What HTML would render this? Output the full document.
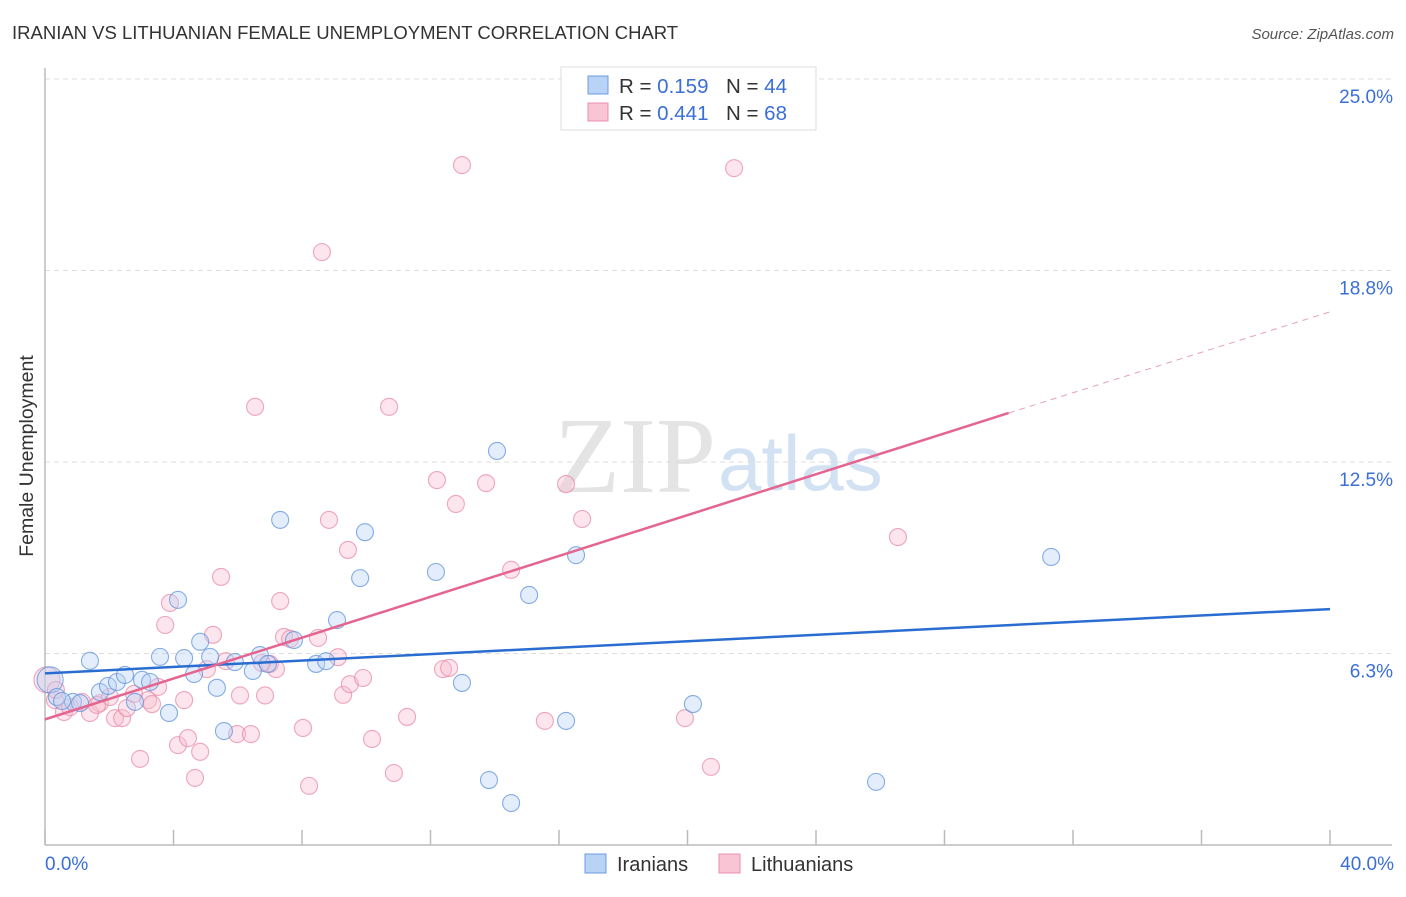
<!DOCTYPE html>
<html><head><meta charset="utf-8"><style>
body{margin:0;background:#fff;font-family:"Liberation Sans",sans-serif}
</style></head><body>
<svg id="c" width="1406" height="892" xmlns="http://www.w3.org/2000/svg" font-family="Liberation Sans, sans-serif">
<text x="12" y="39" font-size="18.5" fill="#333">IRANIAN VS LITHUANIAN FEMALE UNEMPLOYMENT CORRELATION CHART</text>
<text x="1394" y="39" font-size="15" fill="#555" text-anchor="end" font-style="italic">Source: ZipAtlas.com</text>
<text x="716" y="492" font-size="108" fill="#e4e4e4" text-anchor="end" font-family="Liberation Serif, serif">ZIP</text>
<text x="718" y="490" font-size="78" fill="#d3e2f3">atlas</text>
<g id="grid"></g>
<g id="marks"></g>
<text x="33" y="456" font-size="19.5" fill="#333" text-anchor="middle" transform="rotate(-90 33 456)">Female Unemployment</text>
<text x="45" y="870" font-size="19" fill="#3a6fd8">0.0%</text>
<text x="1394" y="870" font-size="19" fill="#3a6fd8" text-anchor="end">40.0%</text>
<g>
<rect x="561" y="67" width="255" height="63" fill="#fff" stroke="#ddd"/>
<rect x="588" y="76" width="20" height="18" fill="#b8d3f5" stroke="#6a9be0"/>
<rect x="588" y="103" width="20" height="18" fill="#f9c5d5" stroke="#e890ab"/>
<text x="619" y="93" font-size="20.5" fill="#333">R = <tspan fill="#3a6fd8">0.159</tspan><tspan x="726">N = </tspan><tspan fill="#3a6fd8">44</tspan></text>
<text x="619" y="120" font-size="20.5" fill="#333">R = <tspan fill="#3a6fd8">0.441</tspan><tspan x="726">N = </tspan><tspan fill="#3a6fd8">68</tspan></text>
</g>
<g>
<rect x="585" y="854" width="21" height="19" fill="#b8d3f5" stroke="#6a9be0"/>
<text x="617" y="871" font-size="20" fill="#333">Iranians</text>
<rect x="719" y="854" width="21" height="19" fill="#f9c5d5" stroke="#e890ab"/>
<text x="751" y="871" font-size="20" fill="#333">Lithuanians</text>
</g>
</svg>
<script>
const yTicks=[25,18.75,12.5,6.25];
const yTickLabels=["25.0%","18.8%","12.5%","6.3%"];
const xTicks=[0,4,8,12,16,20,24,28,32,36,40];
const iraniansX=[0.16,0.37,0.87,1.4,1.71,1.96,2.24,2.49,2.8,3.02,3.27,3.58,3.86,4.14,4.33,4.64,4.83,5.14,5.35,5.57,5.91,6.47,6.69,6.94,7.32,7.75,8.44,8.75,9.09,9.81,9.96,12.17,12.98,13.82,14.07,14.51,15.07,16.22,16.53,20.17,25.87,31.32,0.53,1.09];
const iraniansY=[5.39,4.83,4.67,6.01,4.99,5.19,5.32,5.55,4.67,5.39,5.32,6.14,4.31,8.0,6.1,5.58,6.63,6.14,5.13,3.72,5.97,5.68,6.2,5.91,10.61,6.69,5.91,6.0,7.34,8.71,10.21,8.91,5.29,2.12,12.86,1.37,8.16,4.05,9.46,4.6,2.06,9.4,4.7,4.63];
const lithX=[0.06,0.31,0.59,0.78,1.15,1.4,1.71,2.02,2.18,2.4,2.55,2.77,2.96,3.21,3.33,3.52,3.74,3.89,4.14,4.33,4.45,4.67,4.83,5.04,5.23,5.48,5.63,5.98,6.07,6.41,6.54,6.85,7.0,7.19,7.32,7.44,7.63,8.03,8.22,8.5,8.62,8.84,9.12,9.28,9.43,9.49,9.9,10.18,10.71,10.86,11.27,12.2,12.39,12.58,12.79,12.98,13.73,14.51,15.56,16.22,16.72,19.92,20.73,21.45,26.55,0.34,1.62,6.75];
const lithY=[5.39,4.73,4.34,4.5,4.67,4.31,4.63,4.83,4.14,4.14,4.47,4.93,2.81,4.73,4.6,5.16,7.18,7.9,3.26,4.73,3.49,2.19,3.04,5.74,6.86,8.75,6.0,3.62,4.88,3.62,14.3,4.88,5.91,5.74,7.96,6.79,6.73,3.82,1.93,6.76,19.35,10.61,6.13,4.9,9.63,5.25,5.45,3.46,14.3,2.35,4.18,11.91,5.74,5.78,11.13,22.19,11.81,8.98,4.05,11.78,10.64,4.14,2.55,22.09,10.05,5.06,4.57,5.94];
const blueTrend=[[0,5.6],[40,7.7]];
const pinkTrend=[[0,4.1],[30,14.1],[40,17.4]];
const svg=document.getElementById('c'),NS='http://www.w3.org/2000/svg';
const X=v=>45+v*32.125, Y=v=>845-v*30.64;
function mk(t,a,p){const e=document.createElementNS(NS,t);for(const k in a)e.setAttribute(k,a[k]);(p||svg).appendChild(e);return e;}
const grid=document.getElementById('grid'),marks=document.getElementById('marks');
yTicks.forEach((t,i)=>{
 const l=mk('line',{x1:45,x2:1392,y1:Y(t),y2:Y(t),stroke:'#ddd','stroke-dasharray':'5,4'},grid);
 
 
 const tx=mk('text',{x:1393,y:Y(t)+24,'font-size':19,fill:'#3a6fd8','text-anchor':'end'},grid);
 tx.textContent=yTickLabels[i];
 
 
});
const ya=mk('line',{x1:45,x2:45,y1:68,y2:845,stroke:'#bbb','stroke-width':1.5},grid);


const xa=mk('line',{x1:45,x2:1392,y1:845,y2:845,stroke:'#bbb','stroke-width':1.5},grid);


xTicks.forEach(t=>{
 const l=mk('line',{x1:X(t),x2:X(t),y1:830,y2:845,stroke:'#bbb','stroke-width':1.5},grid);
 
 
});
function pts(xs,ys,fill,stroke,name){
 xs.forEach((x,i)=>{
  const c=mk('circle',{cx:X(x),cy:Y(ys[i]),r:i===0?13:8.5,fill:fill,'fill-opacity':0.4,stroke:stroke,'stroke-opacity':0.75,'stroke-width':1.1},marks);
  
  
 });
}
pts(lithX,lithY,'#f7bfd0','#e88aa8','lithuanian-point');
pts(iraniansX,iraniansY,'#b8d3f5','#5e93dd','iranian-point');
const bt=mk('line',{x1:X(blueTrend[0][0]),y1:Y(blueTrend[0][1]),x2:X(blueTrend[1][0]),y2:Y(blueTrend[1][1]),stroke:'#2a6dd0','stroke-width':2.5},marks);


const pt=mk('line',{x1:X(pinkTrend[0][0]),y1:Y(pinkTrend[0][1]),x2:X(pinkTrend[1][0]),y2:Y(pinkTrend[1][1]),stroke:'#e4658f','stroke-width':2.5},marks);


const pd=mk('line',{x1:X(pinkTrend[1][0]),y1:Y(pinkTrend[1][1]),x2:X(pinkTrend[2][0]),y2:Y(pinkTrend[2][1]),stroke:'#e8a0b8','stroke-width':1,'stroke-dasharray':'6,5'},marks);


</script>
</body></html>
